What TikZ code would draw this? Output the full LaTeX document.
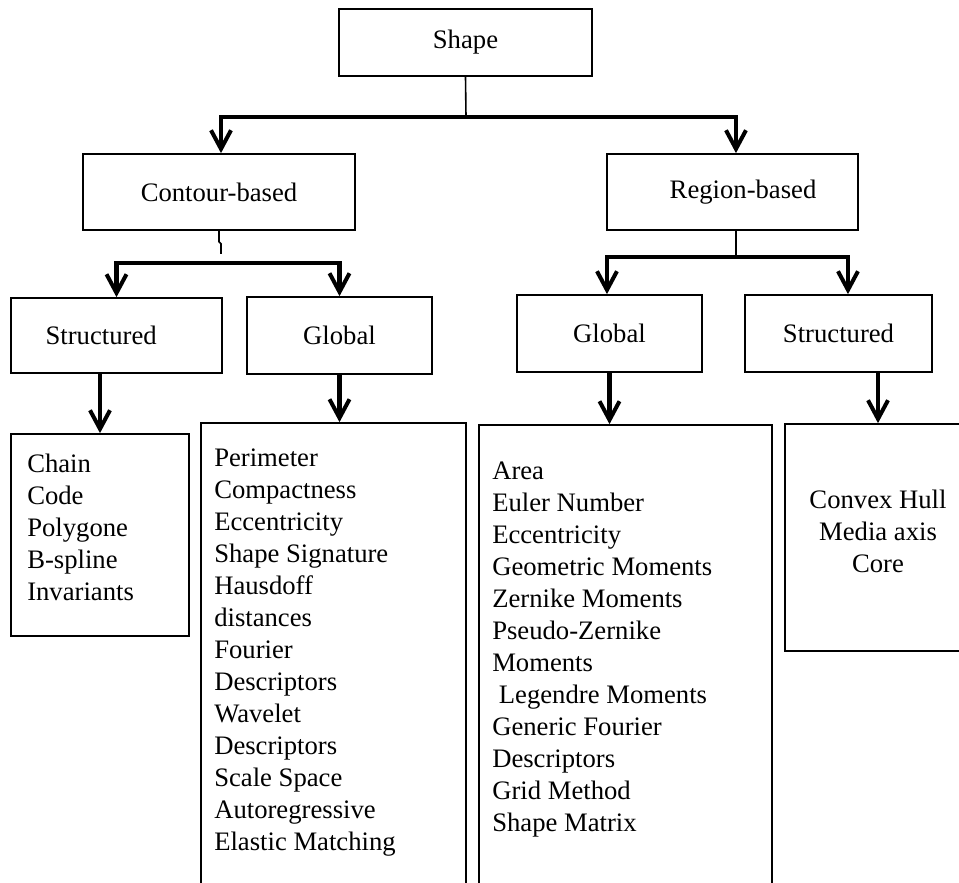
\documentclass[tikz,border=0pt]{standalone}
\usepackage{fontspec}
\setmainfont{Liberation Serif}
\usetikzlibrary{arrows.meta}

\tikzset{
  box/.style={draw, line width=1.3pt, inner sep=0pt, font=\fontsize{20}{24}\selectfont},
  listtxt/.style={inner sep=0pt, anchor=north west, align=left, font=\fontsize{20}{24}\selectfont},
  stem/.style={line width=1.2pt},
  fork/.style={line width=3.5pt, -{Straight Barb[length=14pt,width=15pt,line width=3pt]}},
}

\begin{document}
\begin{tikzpicture}[x=0.75pt,y=-0.75pt]
    \useasboundingbox (0,0) rectangle (959,882);
    \clip (0,0) rectangle (959,882);

    % Shape
    \node[box, minimum width=189.75pt, minimum height=50.25pt] (shape) at (465.5,42.5) {Shape};

    % Contour / Region
    \node[box, minimum width=204pt, minimum height=57pt] (contour) at (219,192) {Contour-based};
    \node[box, minimum width=188.25pt, minimum height=57pt] (region) at (732.5,192) {\hspace*{15.8pt}Region-based};

    % Structured / Global
    \node[box, minimum width=158.25pt, minimum height=56.25pt] (cstruct) at (116.5,335.5) {\hspace*{-23pt}Structured};
    \node[box, minimum width=138.75pt, minimum height=57.75pt] (cglobal) at (339.5,335.5) {Global};
    \node[box, minimum width=138.75pt, minimum height=57.75pt] (rglobal) at (609.5,333.5) {Global};
    \node[box, minimum width=140.25pt, minimum height=57.75pt] (rstruct) at (838.5,333.5) {Structured};

    % Lists
    \node[box, minimum width=133.5pt, minimum height=151.5pt] (chain) at (100,535) {};
    \node[box, minimum width=198.75pt, minimum height=357.75pt] (perim) at (333.5,661.5) {};
    \node[box, minimum width=219.75pt, minimum height=356.25pt] (area) at (625.5,662.5) {};
    \node[box, minimum width=139.5pt, minimum height=170.25pt] (convex) at (878,537.5) {};

    \node[listtxt] (chaintxt) at (27,449.6) {\strut Chain\\Code\\Polygone\\B-spline\\Invariants};
    \node[listtxt] (perimtxt) at (214,443.6) {\strut Perimeter\\Compactness\\Eccentricity\\Shape Signature\\Hausdoff\\distances\\Fourier\\Descriptors\\Wavelet\\Descriptors\\Scale Space\\Autoregressive\\Elastic Matching};
    \node[listtxt] (areatxt) at (492,456.6) {\strut Area\\Euler Number\\Eccentricity\\Geometric Moments\\Zernike Moments\\Pseudo-Zernike\\Moments\\\hspace*{5pt}Legendre Moments\\Generic Fourier\\Descriptors\\Grid Method\\Shape Matrix};
    \node[listtxt, anchor=north, align=center] (convextxt) at (878,485.6) {\strut Convex Hull\\Media axis\\Core};

    % Forks
    \coordinate (sfork) at (466,117);
    \draw[stem] (shape.south) -- (sfork);
    \draw[fork] (sfork) -| ([xshift=1.5pt]contour.north);
    \draw[fork] (sfork) -| ([xshift=2.6pt]region.north);

    \coordinate (cfork) at (220,263);
    \draw[stem] (contour.south) -- ++(0,11) -- ++(2,2) -- ++(0,10);
    \draw[fork] (cfork) -| (cstruct.north);
    \draw[fork] (cfork) -| (cglobal.north);

    \coordinate (rfork) at (736,257);
    \draw[stem] ([xshift=2.6pt]region.south) -- (rfork);
    \draw[fork] (rfork) -| ([xshift=-1.9pt]rglobal.north);
    \draw[fork] (rfork) -| ([xshift=7.1pt]rstruct.north);

    % Down arrows
    \draw[fork] (chain.north |- cstruct.south) -- (chain.north);
    \draw[fork] (cglobal.south) -- (cglobal.south |- perim.north);
    \draw[fork] (rglobal.south) -- (rglobal.south |- area.north);
    \draw[fork] (convex.north |- rstruct.south) -- (convex.north);
\end{tikzpicture}
\end{document}
